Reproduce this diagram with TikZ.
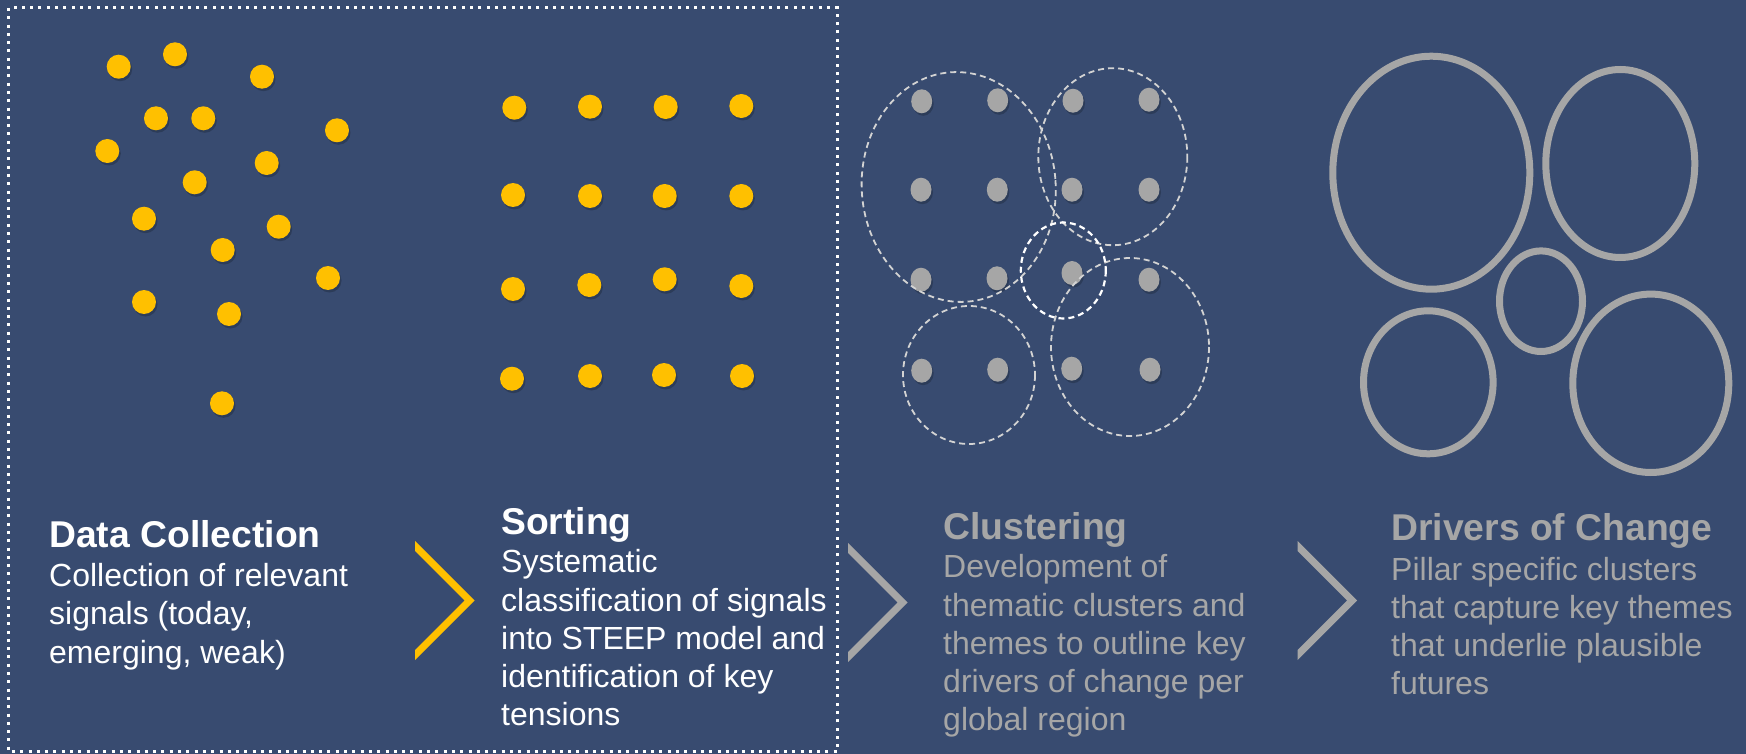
\documentclass[tikz,border=0pt]{standalone}
\usepackage{fontspec}
\setmainfont{Liberation Sans}
\usetikzlibrary{positioning, shapes.geometric}

\definecolor{bgblue}{RGB}{56,75,112}
\definecolor{signalyellow}{HTML}{FFC000}
\definecolor{mutedgray}{HTML}{A6A6A6}
\definecolor{dashgray}{HTML}{D3D3D3}

\begin{document}
\begin{tikzpicture}[x=1pt, y=-1pt,
    signal/.style={circle, fill=signalyellow, minimum size=24pt, inner sep=0pt,
        preaction={fill=black, opacity=.2, transform canvas={shift={(1.5pt,-2.5pt)}}}},
    graydot/.style={ellipse, fill=mutedgray, minimum width=21pt, minimum height=24pt, inner sep=0pt,
        preaction={fill=black, opacity=.2, transform canvas={shift={(1.5pt,-2.5pt)}}}},
    cluster/.style={draw=dashgray, line width=1.8pt, dash pattern=on 6pt off 4pt},
    driver/.style={draw=mutedgray, line width=7pt,
        preaction={draw=black, opacity=.15, transform canvas={shift={(1.5pt,-2.5pt)}}}},
    head/.style={font=\fontsize{37.3}{40}\selectfont\bfseries, inner sep=0pt, anchor=base west},
    body/.style={font=\fontsize{32}{38.3}\selectfont, align=left, inner sep=0pt, anchor=base west}]

    \useasboundingbox (0,0) rectangle (1746,754);
    \fill[bgblue] (0,0) rectangle (1746,754);

    \draw[white, line width=3pt, dash pattern=on 3pt off 5.3pt] (8.5,8) rectangle (837.7,751.5);

    \foreach \x/\y [count=\i] in {118.7/66.7, 175/54.3, 262/76.7, 156/118.3, 203.3/118.3, 337/130.3,
        107.3/151, 266.7/163, 194.7/182.3, 144/218.7, 278.7/226.7, 222.7/250, 328/278, 144/302,
        229/314, 222/403.3}
        \node[signal] (raw\i) at (\x,\y) {};

    \foreach \x/\y [count=\i] in {514.3/107.7, 590/106.7, 665.7/107, 741.3/106,
        513/195, 590/196, 664.7/196, 741.3/196,
        513/289, 589.3/285, 664.7/279.3, 741.3/286,
        512/378.7, 590/376, 664/375, 742/376}
        \node[signal] (sorted\i) at (\x,\y) {};

    \foreach \x/\y [count=\i] in {921.7/101.3, 997.7/100.3, 1073/100.7, 1149/99.7,
        921/189.7, 997.3/189.7, 1072/189.7, 1149/189.7,
        921/279.7, 997/278.3, 1072/273, 1149/279.7,
        921.7/370.7, 997.7/369.7, 1071.7/368.7, 1150/369.7}
        \node[graydot] (grouped\i) at (\x,\y) {};

    \draw[cluster, rotate around={4:(958.7,187)}] (958.7,187) ellipse [x radius=97, y radius=115];
    \draw[cluster] (1112.8,156.7) ellipse [x radius=74.5, y radius=88.5];
    \draw[cluster] (969,375) ellipse [x radius=66, y radius=69];
    \draw[cluster] (1130,347) ellipse [x radius=79, y radius=89];
    \draw[cluster, draw=white, line width=2.2pt] (1063.3,270.5) ellipse [x radius=42.5, y radius=48];

    \draw[driver] (1431.3,172.7) ellipse [x radius=98.5, y radius=116.5];
    \draw[driver] (1620.3,163.5) ellipse [x radius=74.5, y radius=94];
    \draw[driver] (1541,301.2)   ellipse [x radius=41.5, y radius=50.3];
    \draw[driver] (1428.3,382.3) ellipse [x radius=64.8, y radius=71.5];
    \draw[driver] (1650.8,383.3) ellipse [x radius=78,   y radius=89.2];

    \foreach \x/\y/\c in {415/541/signalyellow, 848/543/mutedgray, 1297.5/541/mutedgray}
        \fill[\c] (\x,\y) -- ++(59.5,59.5) -- ++(-59.5,59.5) -- ++(0,-10) -- ++(49.5,-49.5) -- ++(-49.5,-49.5) -- cycle;

    \node[head, text=white] (collecthead) at (49,547) {Data Collection};
    \node[body, text=white] (collectbody) at ([yshift=-116.1pt]collecthead.base west)
        {Collection of relevant\\signals (today,\\emerging, weak)};

    \node[head, text=white] (sorthead) at (501,534) {Sorting};
    \node[body, text=white] (sortbody) at ([yshift=-191.9pt]sorthead.base west)
        {Systematic\\classification of signals\\into STEEP model and\\identification of key\\tensions};

    \node[head, text=mutedgray] (clusterhead) at (943,539) {Clustering};
    \node[body, text=mutedgray] (clusterbody) at ([yshift=-191.9pt]clusterhead.base west)
        {Development of\\thematic clusters and\\themes to outline key\\drivers of change per\\global region};

    \node[head, text=mutedgray] (driverhead) at (1391,540) {Drivers of Change};
    \node[body, text=mutedgray] (driverbody) at ([yshift=-154.9pt]driverhead.base west)
        {Pillar specific clusters\\that capture key themes\\that underlie plausible\\futures};
\end{tikzpicture}
\end{document}
